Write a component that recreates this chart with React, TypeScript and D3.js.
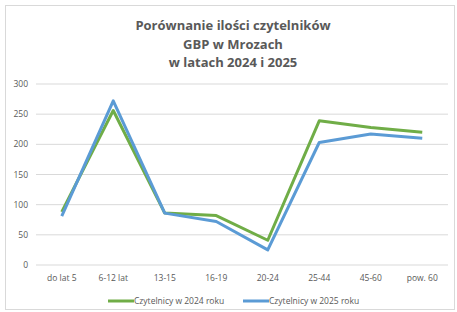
import React from "react";
import * as d3 from "d3";

const categories = ["do lat 5", "6-12 lat", "13-15", "16-19", "20-24", "25-44", "45-60", "pow. 60"];
const series2024 = [88, 256, 86, 82, 41, 239, 228, 220];
const series2025 = [81, 272, 86, 72, 25, 203, 217, 210];
const yTicks = [0, 50, 100, 150, 200, 250, 300];
const seriesNames = ["Czytelnicy w 2024 roku", "Czytelnicy w 2025 roku"];
const titleLines = ["Porównanie ilości czytelników", "GBP w Mrozach", "w latach 2024 i 2025"];

const W = 457, H = 312;
const left = 36, right = 448, top = 84, bottom = 265;
const font = "'Open Sans', 'Liberation Sans', sans-serif";

export default function App() {
  const x = d3.scaleBand().domain(categories).range([left, right]);
  const y = d3.scaleLinear().domain([0, 300]).range([bottom, top]);
  const line = d3.line<number>().x((_, i) => x(categories[i])! + x.bandwidth() / 2).y(d => y(d));
  const colors = ["#70AD47", "#5B9BD5"];
  return (
    <svg width={W} height={H} style={{ position: "absolute", left: 0, top: 0 }}>
      <rect x={0} y={0} width={W} height={H} fill="#fff" />
      <rect x={5.5} y={5.5} width={W - 8} height={H - 8} fill="#fff" stroke="#d9d9d9" />
      {titleLines.map((t, i) => (
        <text key={i} x={233} y={30 + i * 18.5} textAnchor="middle" fontFamily={font} fontWeight="bold" fontSize={13} fill="#595959">{t}</text>
      ))}
      {yTicks.map(t => (
        <g key={t}>
          <line x1={left} x2={right} y1={y(t)} y2={y(t)} stroke="#d9d9d9" strokeWidth={1} />
          <text x={28} y={y(t) + 3} textAnchor="end" fontFamily={font} fontSize={8.5} fill="#595959">{t}</text>
        </g>
      ))}
      {categories.map(c => (
        <text key={c} x={x(c)! + x.bandwidth() / 2} y={281} textAnchor="middle" fontFamily={font} fontSize={8.5} fill="#595959">{c}</text>
      ))}
      {[series2024, series2025].map((s, i) => (
        <path key={i} d={line(s)!} fill="none" stroke={colors[i]} strokeWidth={3} strokeLinejoin="round" />
      ))}
      {seriesNames.map((n, i) => (
        <g key={n}>
          <line x1={108 + i * 135} x2={134 + i * 135} y1={301} y2={301} stroke={colors[i]} strokeWidth={3} />
          <text x={134 + i * 135} y={304} fontFamily={font} fontSize={8.5} fill="#595959">{n}</text>
        </g>
      ))}
    </svg>
  );
}
